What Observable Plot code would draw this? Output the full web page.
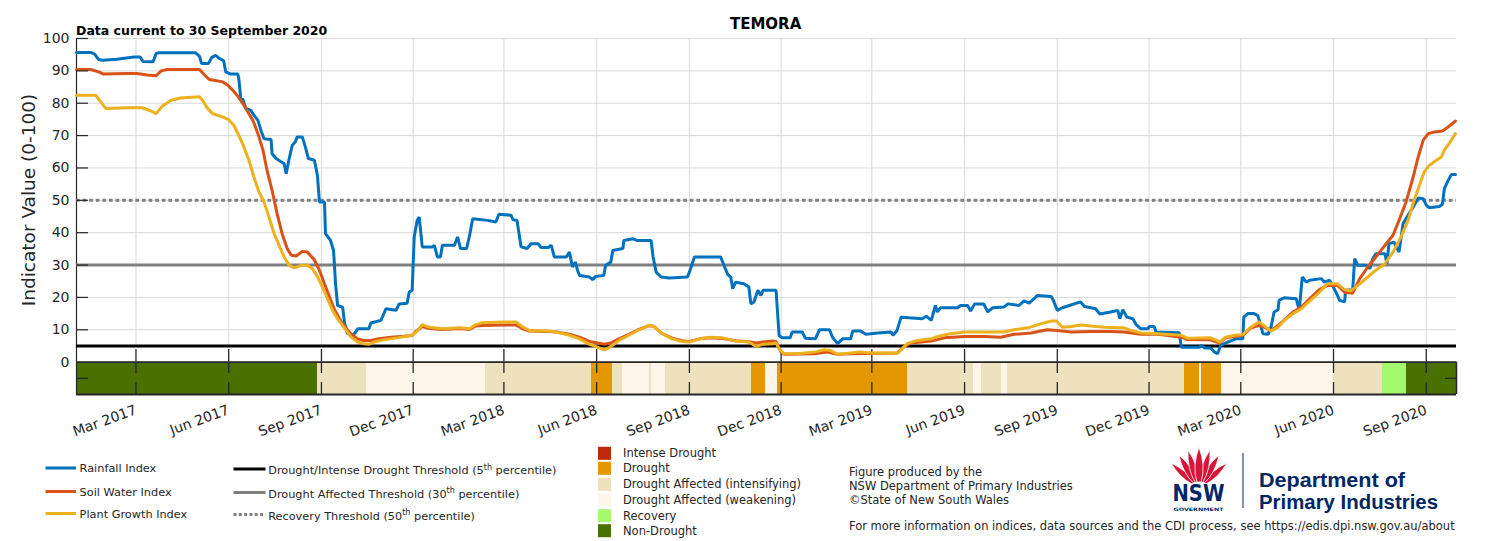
<!DOCTYPE html>
<html><head><meta charset="utf-8">
<script src="https://cdn.jsdelivr.net/npm/d3@7"></script>
<script src="https://cdn.jsdelivr.net/npm/@observablehq/plot@0.6"></script>
<style>
body{margin:0;background:#fff;font-family:"DejaVu Sans",sans-serif;}
#wrap{position:relative;width:1500px;height:541px;overflow:hidden;background:#fff;}
#wrap svg{display:block;}
#overlay{position:absolute;left:0;top:0;}
</style></head>
<body><div id="wrap"></div>
<script>
// ---------- DATA ----------
const locationName = "TEMORA";
const dataCurrent = "Data current to 30 September 2020";
const dayZero = "2017-01-01";      // day 0 of the series below
const dateEnd = "2020-10-01";
const xTickDates = ["2017-03-01","2017-06-01","2017-09-01","2017-12-01","2018-03-01","2018-06-01","2018-09-01","2018-12-01","2019-03-01","2019-06-01","2019-09-01","2019-12-01","2020-03-01","2020-06-01","2020-09-01"];
const yTickValues = [0,10,20,30,40,50,60,70,80,90,100];
const yInwardTicks = [-5,10,20,30,40,50,60,70,80,90,100];

// [day since dayZero, index value]
const rainfallIndex = [[0,95.7],[14,95.7],[18,95.2],[22,93.5],[26,93.3],[40,93.6],[57,94.3],[63,94.3],[66,92.9],[76,92.8],[79,95.4],[82,95.6],[118,95.6],[122,94.5],[124,92.3],[131,92.3],[134,94.1],[138,94.8],[142,93.8],[146,93.1],[148,89.7],[153,89],[160,89],[161,87.6],[163,81.4],[165,81.2],[168,78.4],[173,77.8],[176,76.3],[180,74.7],[183,71.6],[186,69],[193,68.8],[194,64.4],[198,62.9],[203,61.9],[206,61.3],[208,58.2],[211,62.9],[214,67],[217,68],[219,69.6],[224,69.6],[227,66.5],[230,62.9],[236,62.4],[239,57.7],[241,49.5],[246,49.5],[247,39.7],[252,37.6],[255,34.5],[257,24.2],[259,17.5],[264,17],[266,11.9],[269,8.8],[274,8.2],[277,9.3],[279,10.3],[290,10.3],[292,12.1],[302,12.9],[307,16.5],[317,16],[320,18],[328,18.2],[330,21.6],[333,22.2],[335,38.7],[338,43.8],[340,44.8],[343,35.6],[353,35.6],[355,36.1],[358,32.5],[361,32.5],[363,36.1],[375,36.1],[378,38.7],[381,35.1],[387,35.1],[390,39.2],[393,44.3],[400,44.1],[408,43.8],[416,43.3],[419,45.7],[431,45.4],[433,44],[437,43.8],[441,35.6],[447,35.1],[451,36.6],[458,36.6],[461,35.4],[468,35.4],[471,36.1],[474,32.5],[486,32.5],[489,34],[492,29.4],[495,30.9],[497,28.4],[499,26.8],[509,26.3],[512,25.5],[515,26.5],[523,26.8],[525,29.9],[530,30.9],[532,34.5],[542,35.1],[543,37.6],[552,38.1],[556,37.6],[570,37.6],[572,32.5],[575,27.8],[580,26.3],[588,26],[606,26.3],[608,27.8],[613,32.5],[639,32.5],[643,29.4],[646,27.1],[649,26.3],[651,22.7],[654,24.7],[662,24.2],[667,23.2],[669,18],[672,18.6],[676,22.2],[679,20.6],[681,22.2],[694,22.2],[697,8.3],[700,7.5],[708,7.5],[710,9.3],[720,9.3],[723,7.4],[733,7.2],[737,10],[747,10],[750,7.7],[755,5.7],[760,7.2],[768,7.2],[770,9.6],[778,9.6],[783,8.6],[795,9],[808,9.3],[810,8.3],[814,9.8],[818,13.9],[826,13.7],[839,13.4],[843,14.2],[848,12.9],[852,17.5],[854,15.5],[857,16.8],[874,16.8],[877,17.5],[884,17.5],[887,15.8],[891,18],[900,18],[904,15.5],[909,16.8],[920,17],[924,18],[935,17.5],[940,18.9],[945,18.2],[950,19.6],[953,20.6],[967,20.3],[969,19.1],[973,16],[978,16.8],[985,17.5],[996,18.6],[1000,17.2],[1011,16.5],[1015,14.9],[1026,15.5],[1033,16],[1035,13.4],[1038,16.2],[1042,13.9],[1048,13.4],[1051,11.7],[1056,10.3],[1063,10.3],[1064,11],[1069,11],[1071,9.3],[1094,9.1],[1096,4.6],[1114,4.6],[1116,5.2],[1119,4.4],[1125,4.4],[1129,3.1],[1132,2.6],[1135,5.2],[1142,6.2],[1150,7.2],[1157,7.2],[1158,13.9],[1162,15],[1168,15],[1172,14.4],[1177,8.8],[1182,8.6],[1185,10.8],[1188,15.5],[1192,16.2],[1193,19.1],[1198,19.9],[1210,19.6],[1213,16],[1216,26.3],[1220,24.7],[1223,25.3],[1235,25.8],[1238,24.7],[1243,25.3],[1246,23.7],[1251,20.6],[1253,19.1],[1258,18.6],[1259,22.2],[1266,22.4],[1268,32],[1271,29.9],[1279,29.9],[1283,28.9],[1286,32],[1289,33.5],[1298,33.5],[1300,30.4],[1302,36.6],[1307,37.1],[1312,34],[1316,42.8],[1321,45.4],[1326,47.9],[1331,50.7],[1336,50.5],[1339,48.5],[1342,47.7],[1352,48.1],[1355,48.8],[1357,53.6],[1360,55.7],[1364,58],[1368,58]];

const soilWaterIndex = [[0,90.4],[14,90.4],[22,89.7],[27,89],[50,89.2],[60,89.2],[70,88.7],[79,88.5],[84,90],[90,90.4],[122,90.4],[127,88.7],[132,87.3],[140,86.9],[145,86.6],[150,85.6],[155,84],[160,82.2],[165,79.9],[170,77.3],[175,74.7],[180,70.6],[185,65.5],[189,59.3],[194,53.1],[199,45.9],[204,39.7],[209,35.1],[213,33],[218,32.8],[224,34.2],[229,34],[236,31.6],[241,28.4],[246,24.2],[251,20.1],[256,16.2],[261,13.4],[266,11],[272,8.8],[279,7.2],[285,6.7],[292,6.7],[300,7.2],[312,7.7],[325,8],[333,8.2],[337,9.6],[343,11],[350,10.4],[363,10.1],[380,10.4],[390,10.1],[396,11.2],[403,11.3],[423,11.5],[436,11.5],[442,10.4],[449,9.6],[469,9.5],[476,9.3],[489,8.6],[499,7.7],[509,6.4],[517,5.9],[524,5.5],[530,5.9],[538,7.2],[548,8.6],[558,10.1],[568,11.3],[573,11],[581,8.8],[591,7.4],[601,6.6],[608,6.4],[618,7.2],[628,7.5],[641,7.3],[654,6.6],[667,6.3],[674,5.9],[681,6.2],[691,6.5],[694,6.3],[699,3.1],[702,2.4],[732,2.6],[745,3.1],[755,2.4],[768,2.6],[814,2.8],[820,4.6],[828,5.9],[848,6.5],[861,7.5],[881,7.9],[901,7.9],[917,7.7],[930,8.6],[947,9],[963,10],[973,9.8],[987,9.3],[1006,9.5],[1026,9.5],[1039,9.3],[1056,8.6],[1073,8.6],[1096,7.7],[1102,7],[1125,6.9],[1134,5.9],[1140,7.5],[1157,8.3],[1165,10.6],[1173,11.3],[1178,10.8],[1185,9.8],[1192,11.3],[1207,15.5],[1215,17],[1225,20.1],[1233,22.4],[1241,23.7],[1251,23.7],[1258,21.6],[1266,21.3],[1273,25.8],[1281,29.4],[1289,32.5],[1298,36.1],[1306,39.2],[1312,43.8],[1319,49.5],[1326,57.2],[1331,63.4],[1336,68.6],[1341,70.6],[1347,71.1],[1355,71.4],[1360,72.5],[1368,74.5]];

const plantGrowthIndex = [[0,82.5],[19,82.5],[24,80.4],[29,78.4],[51,78.6],[65,78.6],[74,77.6],[79,76.8],[85,79.1],[94,80.9],[103,81.6],[122,82],[125,80.9],[130,78.4],[135,76.8],[140,76.3],[146,75.6],[151,74.9],[156,73.2],[161,70.1],[166,66.5],[171,62.4],[176,57.2],[181,52.6],[186,49.5],[191,44.8],[196,39.7],[201,36.1],[206,32.5],[211,29.9],[216,29.1],[223,29.9],[229,29.9],[234,28.9],[239,26.5],[244,23.2],[249,19.6],[254,16],[259,13.4],[266,10.5],[272,7.9],[279,6.2],[285,5.7],[290,5.5],[295,6.2],[305,6.9],[318,7.5],[332,8.2],[337,9.3],[343,11.6],[350,10.8],[363,10.3],[380,10.6],[390,10.3],[396,11.6],[403,12.2],[423,12.4],[436,12.4],[443,10.8],[449,9.8],[469,9.6],[476,9.3],[489,8.3],[499,7.2],[509,5.5],[517,4.6],[524,3.8],[530,4.8],[538,6.7],[548,8.3],[558,10],[568,11.3],[573,11],[581,8.8],[591,7.2],[601,6.4],[608,6.2],[618,7.2],[628,7.7],[641,7.5],[654,6.5],[667,6.2],[674,4.9],[681,5.5],[691,5.7],[694,5.9],[697,4.1],[702,2.6],[715,2.6],[732,3.1],[742,3.8],[748,3.6],[755,2.4],[768,2.8],[777,3.1],[788,2.8],[815,2.8],[820,4.4],[824,5.7],[834,6.7],[848,7.2],[854,7.9],[867,8.8],[881,9.3],[920,9.3],[930,10],[944,10.6],[957,11.9],[967,12.7],[972,12.7],[978,10.8],[987,11],[996,11.5],[1006,11.2],[1020,10.8],[1034,10.6],[1039,10.6],[1046,9.8],[1056,9],[1073,8.8],[1096,8.3],[1102,7.4],[1125,7.5],[1130,6.9],[1134,6.2],[1140,7.7],[1149,8.3],[1157,8.5],[1165,10.8],[1173,12.4],[1178,11.3],[1185,9.6],[1192,10.8],[1198,12.9],[1207,15],[1215,16.5],[1225,19.3],[1233,21.6],[1241,24.2],[1251,24.2],[1258,22.4],[1264,22],[1273,24.2],[1281,26.3],[1289,28.4],[1298,30.4],[1306,34],[1314,38.7],[1321,43.8],[1326,49],[1331,53.6],[1337,58.8],[1342,60.8],[1349,62.4],[1354,63.4],[1357,65.5],[1362,67.7],[1368,70.6]];

const thresholdValues = [5, 30, 50];
const thresholdNames = ["Drought/Intense Drought Threshold (5", "Drought Affected Threshold (30", "Recovery Threshold (50"];

const seriesNames = ["Rainfall Index", "Soil Water Index", "Plant Growth Index"];
const seriesColors = ["#0072BD", "#D95319", "#EDB120"];

const stateNames = ["Intense Drought","Drought","Drought Affected (intensifying)","Drought Affected (weakening)","Recovery","Non-Drought"];
const stateColors = ["#C0280B","#E39700","#EEE2BE","#FDF5EA","#A5F96F","#4A7000"];

const barStart = ["2017-01-01","2017-08-28","2017-10-16","2018-02-11","2018-05-27","2018-06-17","2018-06-27","2018-07-23","2018-07-25","2018-08-08","2018-11-02","2018-11-16","2018-11-27","2019-04-05","2019-06-10","2019-06-18","2019-07-08","2019-07-14","2020-01-05","2020-01-20","2020-01-22","2020-02-11","2020-06-01","2020-07-20","2020-08-12"];
const barState = ["Non-Drought","Drought Affected (intensifying)","Drought Affected (weakening)","Drought Affected (intensifying)","Drought","Drought Affected (intensifying)","Drought Affected (weakening)","Drought Affected (intensifying)","Drought Affected (weakening)","Drought Affected (intensifying)","Drought","Drought Affected (weakening)","Drought","Drought Affected (intensifying)","Drought Affected (weakening)","Drought Affected (intensifying)","Drought Affected (weakening)","Drought Affected (intensifying)","Drought","Drought Affected (weakening)","Drought","Drought Affected (weakening)","Drought Affected (intensifying)","Recovery","Non-Drought"];

const creditLines = ["Figure produced by the", "NSW Department of Primary Industries", "\u00A9State of New South Wales"];
const moreInfo = "For more information on indices, data sources and the CDI process, see https://edis.dpi.nsw.gov.au/about";
const dpiLines = ["Department of", "Primary Industries"];

// ---------- BUILD ----------
const parse = d3.utcParse("%Y-%m-%d");
const start = parse(dayZero), end = parse(dateEnd);
const toDate = d => d3.utcDay.offset(start, d);
const xTicks = xTickDates.map(parse);
const segments = barStart.map((s, i) => ({
  start: parse(s),
  end: parse(i < barStart.length - 1 ? barStart[i + 1] : dateEnd),
  state: barState[i]
}));
const series = [rainfallIndex, soilWaterIndex, plantGrowthIndex];
const ink = "#262626";
const dots = "3.7,2.9";

const chart = Plot.plot({
  width: 1500, height: 541,
  marginLeft: 76, marginRight: 44, marginTop: 38, marginBottom: 147,
  x: {type: "utc", domain: [start, end]},
  y: {domain: [-10, 100]},
  color: {type: "identity"},
  style: {fontFamily: "DejaVu Sans, sans-serif", color: ink, background: "white", overflow: "visible"},
  marks: [
    Plot.ruleY(yTickValues.filter(v => v > 0), {y: d => d, stroke: "#d9d9d9", strokeWidth: 1}),
    Plot.ruleX(xTicks, {x: d => d, y1: 5, y2: 100, stroke: "#d9d9d9", strokeWidth: 1}),
    Plot.rect(segments, {x1: "start", x2: "end", y1: -10, y2: 0, fill: d => stateColors[stateNames.indexOf(d.state)], shapeRendering: "crispEdges"}),
    Plot.ruleX(xTicks, {x: d => d, y1: 0, y2: 3.9, stroke: ink, strokeWidth: 1.3}),
    Plot.ruleX(xTicks, {x: d => d, y1: -3.5, y2: -0.4, stroke: ink, strokeWidth: 1.3}),
    Plot.ruleX(xTicks, {x: d => d, y1: -10, y2: -6.3, stroke: ink, strokeWidth: 1.3}),
    Plot.ruleY([0, -10], {y: d => d, stroke: ink, strokeWidth: 1.8}),
    Plot.ruleX([start], {x: d => d, y1: -10, y2: 100, stroke: ink, strokeWidth: 1.2}),
    Plot.ruleX([end], {x: d => d, y1: -10, y2: 0, stroke: ink, strokeWidth: 1.5}),
    Plot.ruleY([thresholdValues[0]], {y: d => d, stroke: "#000", strokeWidth: 3}),
    Plot.ruleY([thresholdValues[1]], {y: d => d, stroke: "#808080", strokeWidth: 3}),
    Plot.ruleY([thresholdValues[2]], {y: d => d, stroke: "#808080", strokeWidth: 3, strokeDasharray: dots}),
    ...series.map((s, i) => Plot.lineY(s, {x: d => toDate(d[0]), y: d => d[1], stroke: seriesColors[i], strokeWidth: 3, strokeLinejoin: "miter"})),
    Plot.axisY(yTickValues, {tickSize: 0, tickPadding: 7, fontSize: 14, label: null}),
    Plot.axisY(yInwardTicks, {tickSize: 12, dx: 12, tickFormat: () => "", label: null, strokeWidth: 1.2}),
    Plot.axisY([-5], {anchor: "right", tickSize: 12, dx: -12, tickFormat: () => "", label: null, strokeWidth: 1.2}),
    Plot.axisX(xTicks, {tickFormat: d3.utcFormat("%b %Y"), tickRotate: -20, tickSize: 0, tickPadding: 15, fontSize: 14, label: null})
  ]
});
const wrap = document.getElementById("wrap");
wrap.appendChild(chart);

// ---------- OVERLAY: titles, legend, credits ----------
const ov = d3.select(wrap).append("svg").attr("id", "overlay").attr("width", 1500).attr("height", 541)
  .style("font-family", "DejaVu Sans, sans-serif");

ov.append("text").attr("x", 76).attr("y", 35).attr("font-size", 12.5).attr("font-weight", "bold").attr("fill", "#000").text(dataCurrent);
ov.append("text").attr("x", 765.6).attr("y", 29).attr("text-anchor", "middle").attr("font-size", 15).attr("font-weight", "bold").attr("fill", "#000").text(locationName);
ov.append("text").attr("transform", "translate(35,200) rotate(-90)").attr("text-anchor", "middle").attr("font-size", 18.5).attr("fill", ink).text("Indicator Value (0-100)");

// series legend
const rowsY = [468, 491.5, 513.5];
const legendFont = 11.3;
seriesNames.forEach((n, i) => {
  ov.append("line").attr("x1", 45.5).attr("x2", 76).attr("y1", rowsY[i]).attr("y2", rowsY[i]).attr("stroke", seriesColors[i]).attr("stroke-width", 3);
  ov.append("text").attr("x", 79.6).attr("y", rowsY[i] + 4).attr("font-size", legendFont).attr("fill", ink).text(n);
});
// threshold legend
const thrStroke = ["#000", "#808080", "#808080"];
thresholdNames.forEach((n, i) => {
  const ln = ov.append("line").attr("x1", 233.5).attr("x2", 265.5).attr("y1", rowsY[i] + 1).attr("y2", rowsY[i] + 1).attr("stroke", thrStroke[i]).attr("stroke-width", 3);
  if (i === 2) ln.attr("stroke-dasharray", "3,2.3");
  const t = ov.append("text").attr("x", 268.2).attr("y", rowsY[i] + 6).attr("font-size", legendFont).attr("fill", ink);
  t.append("tspan").text(n);
  t.append("tspan").attr("dy", -4.5).attr("font-size", 8).text("th");
  t.append("tspan").attr("dy", 4.5).text(" percentile)");
});
// state legend
const stateRowY = [453.3, 468.3, 484.3, 500, 515.7, 530.7];
const stateFont = 11.5;
stateNames.forEach((n, i) => {
  ov.append("rect").attr("x", 598).attr("y", stateRowY[i] - 6.5).attr("width", 13).attr("height", 13).attr("fill", stateColors[i]);
  ov.append("text").attr("x", 623).attr("y", stateRowY[i] + 4).attr("font-size", stateFont).attr("fill", ink).text(n);
});
// credits
const creditY = [476, 490, 504];
creditLines.forEach((c, i) => ov.append("text").attr("x", 849).attr("y", creditY[i]).attr("font-size", stateFont).attr("fill", ink).text(c));
ov.append("text").attr("x", 849).attr("y", 530).attr("font-size", stateFont).attr("fill", ink).text(moreInfo);

// logo
function petal(bx, by, tx, ty, w) {
  const dx = tx - bx, dy = ty - by, len = Math.hypot(dx, dy), nx = -dy / len, ny = dx / len;
  const mx = bx + dx * 0.45, my = by + dy * 0.45;
  return `M${bx + nx * w * 0.3},${by + ny * w * 0.3} Q${mx + nx * w},${my + ny * w} ${tx},${ty} Q${mx - nx * w},${my - ny * w} ${bx - nx * w * 0.3},${by - ny * w * 0.3}Z`;
}
const logo = ov.append("g");
const petals = [[1193,483,1171,463,5],[1205,483,1227,463,5],[1195,482,1179,455,6],[1203,482,1219,455,6],[1197,482,1188,450,6],[1201,482,1210,450,6],[1199,482,1199,447,7]];
petals.forEach(p => logo.append("path").attr("d", petal(...p)).attr("fill", "#D7153A").attr("stroke", "#fff").attr("stroke-width", 0.8));
const navy = "#002664";
logo.append("text").attr("x", 1198.5).attr("y", 500.5).attr("text-anchor", "middle").attr("font-family", "DejaVu Sans").attr("font-weight", "bold").attr("font-size", 23).attr("textLength", 52).attr("lengthAdjust", "spacingAndGlyphs").attr("fill", navy).text("NSW");
logo.append("text").attr("x", 1198.5).attr("y", 510.5).attr("text-anchor", "middle").attr("font-family", "DejaVu Sans").attr("font-weight", "bold").attr("font-size", 4.6).attr("textLength", 50).attr("lengthAdjust", "spacingAndGlyphs").attr("fill", navy).text("GOVERNMENT");
logo.append("line").attr("x1", 1243).attr("x2", 1243).attr("y1", 453).attr("y2", 508).attr("stroke", navy).attr("stroke-width", 1);
const dpiBase = [486.5, 508.5], dpiLen = [146, 179];
dpiLines.forEach((t, i) => logo.append("text").attr("x", 1259).attr("y", dpiBase[i])
  .attr("font-family", "Liberation Sans").attr("font-weight", "bold").attr("font-size", 19.5)
  .attr("textLength", dpiLen[i]).attr("lengthAdjust", "spacingAndGlyphs").attr("fill", navy).text(t));
</script>
</body></html>
